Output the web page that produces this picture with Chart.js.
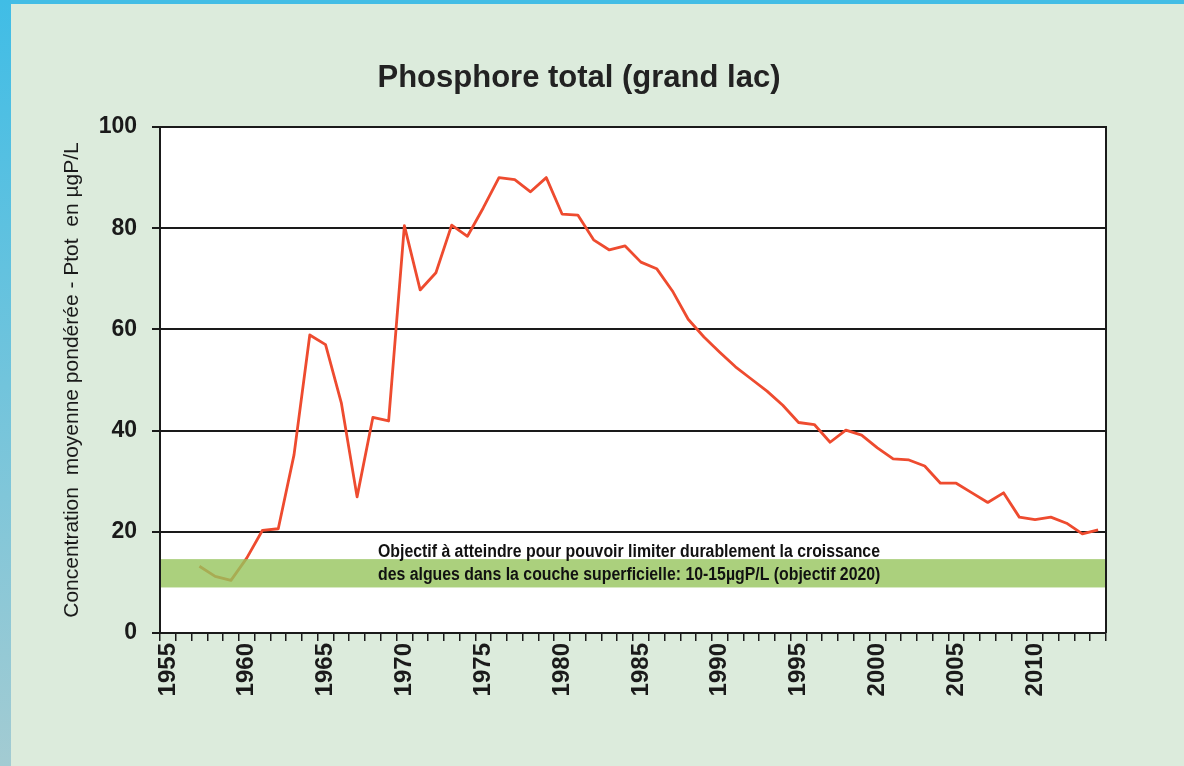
<!DOCTYPE html>
<html lang="fr">
<head>
<meta charset="utf-8">
<title>Phosphore total (grand lac)</title>
<script src="https://cdn.jsdelivr.net/npm/chart.js@4.4.1/dist/chart.umd.min.js"></script>
<style>
  html, body { margin: 0; padding: 0; }
  body { width: 1184px; height: 766px; background: #dcebdc; position: relative; overflow: hidden; }
  #topStrip { position: absolute; left: 0; top: 0; width: 1184px; height: 4px; background: #43bde5; }
  #leftStrip { position: absolute; left: 0; top: 0; width: 11px; height: 766px; background: linear-gradient(#40bde6, #a3cbd2); }
  canvas { position: absolute; left: 0; top: 0; }
</style>
</head>
<body>
<canvas id="phosChart" width="1184" height="766"></canvas>
<div id="topStrip"></div>
<div id="leftStrip"></div>
<script>
// annees (axe des categories)
const years = [
  '1955', '1956', '1957', '1958', '1959', '1960', '1961', '1962', '1963', '1964',
  '1965', '1966', '1967', '1968', '1969', '1970', '1971', '1972', '1973', '1974',
  '1975', '1976', '1977', '1978', '1979', '1980', '1981', '1982', '1983', '1984',
  '1985', '1986', '1987', '1988', '1989', '1990', '1991', '1992', '1993', '1994',
  '1995', '1996', '1997', '1998', '1999', '2000', '2001', '2002', '2003', '2004',
  '2005', '2006', '2007', '2008', '2009', '2010', '2011', '2012', '2013', '2014'
];

// Ptot en µgP/L
const phosphore = [
  null, null, 13.2, 11.2, 10.4, 14.8, 20.3, 20.6, 35.2, 58.9,
  57.0, 45.5, 26.9, 42.6, 41.9, 80.5, 67.8, 71.2, 80.6, 78.4,
  84.0, 90.0, 89.6, 87.2, 90.0, 82.8, 82.6, 77.7, 75.7, 76.5,
  73.3, 72.0, 67.6, 62.0, 58.5, 55.5, 52.6, 50.2, 47.8, 45.0,
  41.6, 41.2, 37.7, 40.1, 39.1, 36.6, 34.4, 34.2, 33.0, 29.6,
  29.6, 27.7, 25.8, 27.7, 22.9, 22.4, 22.9, 21.7, 19.6, 20.4
];

const objectifRange = [9, 14.6];
const titleText = 'Phosphore total (grand lac)';
const yTitle = 'Concentration  moyenne pondérée - Ptot  en µgP/L';
const objectifLines = [
  'Objectif à atteindre pour pouvoir limiter durablement la croissance',
  'des algues dans la couche superficielle: 10-15µgP/L (objectif 2020)'
];

Chart.defaults.font.family = '"Liberation Sans", Arial, sans-serif';

const decor = {
  id: 'decor',
  beforeDraw(chart) {
    const { ctx, chartArea: a } = chart;
    ctx.save();
    ctx.fillStyle = '#ffffff';
    ctx.fillRect(a.left, a.top, a.right - a.left, a.bottom - a.top);
    ctx.restore();
  },
  afterDatasetsDraw(chart) {
    const { ctx, chartArea: a, scales: { y } } = chart;
    const top = y.getPixelForValue(objectifRange[1]);
    const bottom = y.getPixelForValue(objectifRange[0]);
    ctx.save();
    // bande objectif
    ctx.fillStyle = 'rgba(150, 196, 92, 0.8)';
    ctx.fillRect(a.left + 1, top, a.right - a.left - 1, bottom - top);

    // texte objectif
    ctx.fillStyle = '#111111';
    ctx.font = 'bold 18px "Liberation Sans Narrow", "Liberation Sans", Arial, sans-serif';
    ctx.textAlign = 'left';
    ctx.textBaseline = 'alphabetic';
    const sx = 502 / ctx.measureText(objectifLines[0]).width;
    [557, 580].forEach((by, i) => {
      ctx.save();
      ctx.translate(378, by);
      ctx.scale(sx, 1);
      ctx.fillText(objectifLines[i], 0, 0);
      ctx.restore();
    });

    // cadre droit
    ctx.strokeStyle = '#1a1a1a';
    ctx.lineWidth = 2;
    ctx.beginPath();
    ctx.moveTo(a.right, a.top - 1);
    ctx.lineTo(a.right, a.bottom);
    ctx.stroke();

    // titre
    ctx.fillStyle = '#222222';
    ctx.font = 'bold 31px "Liberation Sans", Arial, sans-serif';
    ctx.textAlign = 'center';
    ctx.fillText(titleText, 579, 87);
    ctx.restore();
  }
};

new Chart(document.getElementById('phosChart'), {
  type: 'line',
  data: {
    labels: years,
    datasets: [{
      data: phosphore,
      borderColor: '#ee4b2f',
      borderWidth: 2.8,
      borderJoinStyle: 'round',
      pointRadius: 0,
      tension: 0,
      fill: false
    }]
  },
  options: {
    responsive: false,
    animation: false,
    layout: { padding: { left: 0, top: 127, right: 78, bottom: 0 } },
    plugins: {
      legend: { display: false },
      tooltip: { enabled: false }
    },
    scales: {
      x: {
        type: 'category',
        offset: true,
        grid: { offset: true, drawOnChartArea: false, drawTicks: true, tickLength: 8, color: '#1a1a1a', lineWidth: 1.5 },
        border: { display: true, color: '#1a1a1a', width: 2 },
        ticks: {
          autoSkip: false,
          minRotation: 90,
          maxRotation: 90,
          padding: 2,
          color: '#1a1a1a',
          font: { size: 24, weight: 'bold' },
          callback: (v, i) => (Number(years[i]) % 5 === 0 ? years[i] : '')
        },
        afterFit: s => { s.height = 133; }
      },
      y: {
        min: 0,
        max: 100,
        ticks: { stepSize: 20, padding: 15, color: '#1a1a1a', font: { size: 23, weight: 'bold' } },
        grid: { color: '#1a1a1a', lineWidth: 2, tickLength: 8 },
        border: { display: true, color: '#1a1a1a', width: 2 },
        title: {
          display: true,
          text: yTitle,
          color: '#1a1a1a',
          font: { size: 21 },
          padding: { top: 60, bottom: 0 }
        },
        afterFit: s => { s.width = 160; }
      }
    }
  },
  plugins: [decor]
});
</script>
</body>
</html>
